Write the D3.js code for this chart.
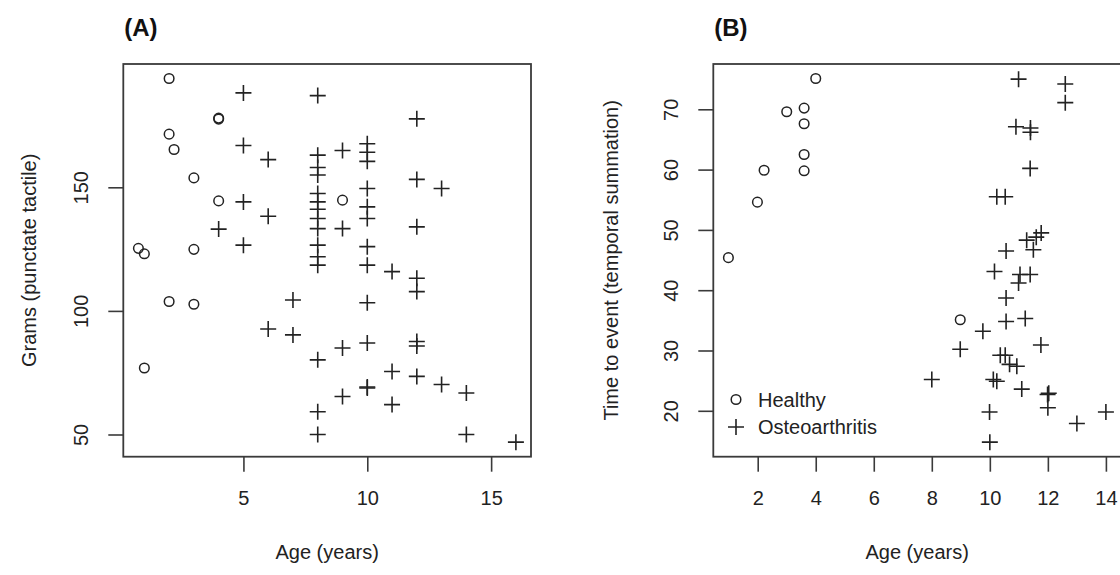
<!DOCTYPE html>
<html>
<head>
<meta charset="utf-8">
<script src="https://cdn.jsdelivr.net/npm/d3@7"></script>
<style>
  html, body { margin: 0; padding: 0; background: #fff; }
  svg { display: block; font-family: "Liberation Sans", Arial, Helvetica, sans-serif; }
</style>
</head>
<body>
<svg id="chart" width="1120" height="575"></svg>
<script>
// Panel A: punctate tactile threshold (grams) by age
const ageA_healthy   = [2, 4, 4, 2, 2.2, 3, 4, 0.76, 1, 3, 2, 3, 1, 9];
const gramsA_healthy = [194, 178, 177.6, 171.5, 165.3, 153.8, 144.5, 125.3, 123.1, 124.9, 103.8, 102.7, 76.9, 144.8];

const ageA_oa = [
  5, 5, 5, 5,
  8, 8, 8, 8, 8, 8, 8, 8, 8, 8, 8, 8, 8, 8, 8,
  6, 6, 6,
  4,
  7, 7,
  9, 9, 9, 9,
  10, 10, 10, 10, 10, 10, 10, 10, 10, 10, 10, 10,
  11, 11, 11,
  12, 12, 12, 12, 12, 12, 12, 12,
  13, 13,
  14, 14,
  16
];
const gramsA_oa = [
  188.2, 166.9, 144.1, 126.6,
  187.1, 163, 158, 155, 147.5, 144.1, 141.1, 137.4, 133.3, 126.6, 121.9, 118.5, 80.2, 59.2, 50,
  161.2, 138.3, 92.7,
  133.1,
  104.4, 90.3,
  164.9, 133.3, 85, 65.4,
  167.6, 164.2, 160.5, 149.5, 142.1, 137.4, 126, 118.5, 103.3, 87, 68.8, 69.2,
  115.9, 75.5, 62.1,
  177.7, 153.2, 134, 113.2, 107.8, 87.6, 85.8, 73.5,
  149.5, 70.2,
  66.8, 50,
  46.9
];

// Panel B: time to event (temporal summation) by age
const ageB_healthy  = [4, 3, 3.6, 3.6, 3.6, 3.6, 2.22, 1.99, 0.99, 8.98];
const timeB_healthy = [75.1, 69.6, 70.2, 67.6, 62.5, 59.8, 59.9, 54.6, 45.4, 35.1];

const ageB_oa = [
  10.99, 12.6, 12.6, 10.9, 11.4, 11.4, 11.39, 10.24, 10.53, 11.77, 11.6, 11.27, 11.5, 10.56,
  10.16, 11.04, 11.39, 10.99, 10.56, 10.56, 11.22, 9.76, 11.76, 8.98, 10.36, 10.53, 10.68, 10.93,
  8.0, 10.12, 10.24, 11.1, 11.99, 12.03, 12.0, 9.99, 14.0, 13.0, 10.0
];
const timeB_oa = [
  75.0, 74.2, 71.1, 67.1, 66.9, 66.2, 60.2, 55.5, 55.5, 49.5, 48.8, 48.3, 46.7, 46.5,
  43.1, 42.6, 42.6, 41.2, 38.7, 34.8, 35.3, 33.2, 30.9, 30.2, 29.2, 29.2, 27.7, 27.4,
  25.2, 25.2, 24.9, 23.6, 22.7, 22.9, 20.5, 19.8, 19.8, 17.9, 14.8
];

// Tick values
const ticksA_x = [5, 10, 15];
const ticksA_y = [50, 100, 150];
const ticksB_x = [2, 4, 6, 8, 10, 12, 14];
const ticksB_y = [20, 30, 40, 50, 60, 70];

const legendLabels = ["Healthy", "Osteoarthritis"];

const svg = d3.select("#chart");
const INK = "#222";
const FRAME = "#3a3a3a";
const FS = 20;

// Pad a data extent by 4% on each side
function padded(values) {
  const [lo, hi] = d3.extent(values);
  const d = (hi - lo) * 0.04;
  return [lo - d, hi + d];
}

function zip(xs, ys) { return xs.map((x, i) => [x, ys[i]]); }

function circle(g, pts, x, y) {
  g.selectAll(null).data(pts).enter().append("circle")
    .attr("cx", d => x(d[0])).attr("cy", d => y(d[1])).attr("r", 4.8)
    .attr("fill", "none").attr("stroke", INK).attr("stroke-width", 1.5);
}

const crossPath = "M-8,0H8M0,-8V8";
function cross(g, pts, x, y) {
  g.selectAll(null).data(pts).enter().append("path")
    .attr("d", crossPath)
    .attr("transform", d => `translate(${x(d[0])},${y(d[1])})`)
    .attr("fill", "none").attr("stroke", INK).attr("stroke-width", 1.6);
}

function panel(opts) {
  const { left, top, width, height, xVals, yVals, xTicks, yTicks, title, xLabel, yLabel, yLabelX } = opts;
  const x = d3.scaleLinear().domain(padded(xVals)).range([left, left + width]);
  const y = d3.scaleLinear().domain(padded(yVals)).range([top + height, top]);
  const g = svg.append("g");

  // Frame
  g.append("rect").attr("x", left).attr("y", top).attr("width", width).attr("height", height)
    .attr("fill", "none").attr("stroke", FRAME).attr("stroke-width", 1.8);

  // Bottom axis
  const xa = d3.axisBottom(x).tickValues(xTicks).tickSize(15).tickPadding(19).tickFormat(d3.format("d"));
  const gx = g.append("g").attr("transform", `translate(0,${top + height})`).call(xa);
  gx.select(".domain").remove();
  gx.selectAll(".tick line").attr("stroke", FRAME).attr("stroke-width", 1.6);
  gx.selectAll(".tick text").attr("font-size", FS).attr("fill", INK).attr("font-family", "Liberation Sans, Arial, sans-serif");

  // Left axis with labels rotated parallel to the axis
  const ya = d3.axisLeft(y).tickValues(yTicks).tickSize(15).tickFormat(d3.format("d"));
  const gy = g.append("g").attr("transform", `translate(${left},0)`).call(ya);
  gy.select(".domain").remove();
  gy.selectAll(".tick line").attr("stroke", FRAME).attr("stroke-width", 1.6);
  gy.selectAll(".tick text")
    .attr("font-size", FS).attr("fill", INK).attr("font-family", "Liberation Sans, Arial, sans-serif")
    .attr("x", null).attr("dy", null)
    .attr("text-anchor", "middle").attr("dominant-baseline", "central")
    .attr("transform", "translate(-42,0) rotate(-90)");

  // Titles
  g.append("text").attr("x", left + 1).attr("y", 36).attr("font-size", 24).attr("font-weight", "bold")
    .attr("fill", "#111").text(title);
  g.append("text").attr("x", left + width / 2).attr("y", 552).attr("text-anchor", "middle")
    .attr("dominant-baseline", "central").attr("font-size", FS).attr("fill", INK).text(xLabel);
  g.append("text").attr("transform", `translate(${yLabelX},${top + height / 2}) rotate(-90)`)
    .attr("text-anchor", "middle").attr("dominant-baseline", "central")
    .attr("font-size", FS).attr("fill", INK).text(yLabel);

  return { g, x, y };
}

// Panel (A)
const A = panel({
  left: 123.3, top: 64, width: 407.7, height: 392.7,
  xVals: ageA_healthy.concat(ageA_oa), yVals: gramsA_healthy.concat(gramsA_oa),
  xTicks: ticksA_x, yTicks: ticksA_y,
  title: "(A)", xLabel: "Age (years)", yLabel: "Grams (punctate tactile)", yLabelX: 29
});
circle(A.g, zip(ageA_healthy, gramsA_healthy), A.x, A.y);
cross(A.g, zip(ageA_oa, gramsA_oa), A.x, A.y);

// Panel (B)
const B = panel({
  left: 713.3, top: 64, width: 407.7, height: 392.7,
  xVals: ageB_healthy.concat(ageB_oa), yVals: timeB_healthy.concat(timeB_oa),
  xTicks: ticksB_x, yTicks: ticksB_y,
  title: "(B)", xLabel: "Age (years)", yLabel: "Time to event (temporal summation)", yLabelX: 611
});
circle(B.g, zip(ageB_healthy, timeB_healthy), B.x, B.y);
cross(B.g, zip(ageB_oa, timeB_oa), B.x, B.y);

// Legend
const leg = B.g.append("g");
legendLabels.forEach((lab, i) => {
  const cy = 399.5 + i * 27.5;
  if (i === 0) {
    leg.append("circle").attr("cx", 736).attr("cy", cy).attr("r", 4.8)
      .attr("fill", "none").attr("stroke", INK).attr("stroke-width", 1.5);
  } else {
    leg.append("path").attr("d", crossPath).attr("transform", `translate(736,${cy})`)
      .attr("fill", "none").attr("stroke", INK).attr("stroke-width", 1.6);
  }
  leg.append("text").attr("x", 758).attr("y", cy).attr("dominant-baseline", "central")
    .attr("font-size", FS).attr("fill", INK).text(lab);
});
</script>
</body>
</html>
